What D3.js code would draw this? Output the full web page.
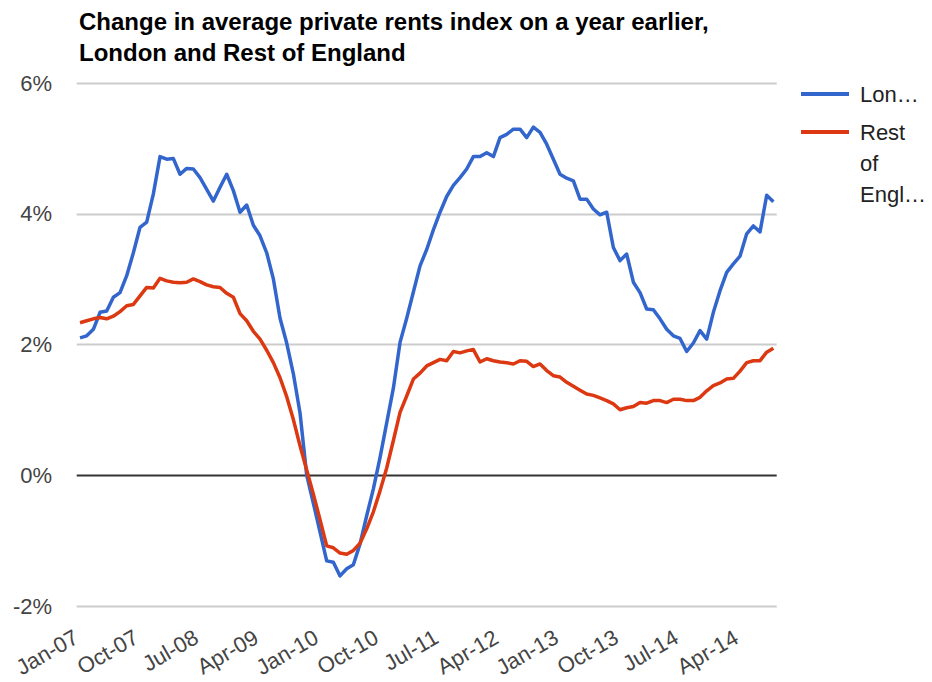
<!DOCTYPE html>
<html>
<head>
<meta charset="utf-8">
<script src="https://cdn.jsdelivr.net/npm/d3@7"></script>
<style>
  html, body { margin: 0; padding: 0; background: #fff; }
  svg { display: block; font-family: Arial, "Liberation Sans", sans-serif; }
</style>
</head>
<body>
<svg id="chart" width="932" height="682"></svg>
<script>
// year-on-year change (%), monthly from Jan-07
var london = [
	2.10, 2.13, 2.23, 2.49, 2.51, 2.72, 2.79, 3.05, 3.40, 3.79,
	3.87, 4.30, 4.87, 4.83, 4.84, 4.60, 4.69, 4.68, 4.55, 4.37,
	4.19, 4.40, 4.60, 4.35, 4.02, 4.13, 3.82, 3.66, 3.40, 3.00,
	2.40, 2.02, 1.55, 0.95, 0.00, -0.43, -0.87, -1.31, -1.33, -1.54,
	-1.43, -1.37, -1.05, -0.62, -0.21, 0.27, 0.80, 1.33, 2.03, 2.40,
	2.80, 3.20, 3.45, 3.75, 4.02, 4.26, 4.43, 4.55, 4.68, 4.87,
	4.87, 4.93, 4.87, 5.16, 5.21, 5.29, 5.29, 5.16, 5.32, 5.24,
	5.06, 4.83, 4.60, 4.54, 4.50, 4.22, 4.22, 4.07, 3.98, 4.02,
	3.48, 3.28, 3.38, 2.95, 2.79, 2.54, 2.53, 2.39, 2.23, 2.13,
	2.09, 1.89, 2.02, 2.21, 2.08, 2.49, 2.82, 3.10, 3.23, 3.35,
	3.69, 3.81, 3.72, 4.28, 4.18
];
var restOfEngland = [
	2.33, 2.36, 2.39, 2.41, 2.39, 2.43, 2.50, 2.59, 2.61, 2.74,
	2.87, 2.86, 3.01, 2.97, 2.95, 2.94, 2.95, 3.00, 2.96, 2.91,
	2.88, 2.87, 2.78, 2.72, 2.47, 2.36, 2.20, 2.08, 1.91, 1.72,
	1.49, 1.20, 0.85, 0.45, 0.08, -0.29, -0.68, -1.08, -1.11, -1.19,
	-1.21, -1.15, -1.04, -0.82, -0.56, -0.24, 0.11, 0.53, 0.96, 1.21,
	1.47, 1.56, 1.67, 1.72, 1.77, 1.75, 1.89, 1.87, 1.90, 1.92,
	1.73, 1.78, 1.75, 1.73, 1.72, 1.70, 1.75, 1.74, 1.66, 1.70,
	1.60, 1.52, 1.50, 1.42, 1.36, 1.30, 1.24, 1.22, 1.18, 1.14,
	1.09, 1.00, 1.03, 1.05, 1.11, 1.10, 1.14, 1.14, 1.11, 1.16,
	1.16, 1.14, 1.14, 1.19, 1.29, 1.37, 1.41, 1.47, 1.48, 1.59,
	1.72, 1.75, 1.75, 1.88, 1.94
];
var tickLabels = [ 'Jan-07', 'Oct-07', 'Jul-08', 'Apr-09', 'Jan-10', 'Oct-10', 'Jul-11', 'Apr-12', 'Jan-13', 'Oct-13', 'Jul-14', 'Apr-14' ];
var tickEvery  = 9;
var yTicks     = [ -2, 0, 2, 4, 6 ];
var titleLines = [ 'Change in average private rents index on a year earlier,', 'London and Rest of England' ];
var seriesNames = [ [ 'Lon…' ], [ 'Rest', 'of', 'Engl…' ] ];
var seriesColors = [ '#3366cc', '#dc3912' ];

var box = { left: 76.7, right: 776.7, top: 82.7, bottom: 606 };
var svg = d3.select( '#chart' );

var x = d3.scalePoint()
	.domain( d3.range( london.length ) )
	.range( [ box.left, box.right ] )
	.padding( 0.5 );
var y = d3.scaleLinear()
	.domain( [ -2, 6 ] )
	.range( [ box.bottom, box.top ] );

// title
svg.append( 'g' )
	.selectAll( 'text' )
	.data( titleLines )
	.join( 'text' )
	.attr( 'x', 79 )
	.attr( 'y', ( d, i ) => 30 + i * 31 )
	.attr( 'font-size', 24 )
	.attr( 'font-weight', 'bold' )
	.attr( 'fill', '#000' )
	.text( d => d );

// gridlines + y labels
var yAxis = svg.append( 'g' );
yAxis.selectAll( 'line' )
	.data( yTicks )
	.join( 'line' )
	.attr( 'x1', box.left )
	.attr( 'x2', box.right )
	.attr( 'y1', d => Math.round( y( d ) ) + 0.5 )
	.attr( 'y2', d => Math.round( y( d ) ) + 0.5 )
	.attr( 'stroke', d => d === 0 ? '#333' : '#ccc' )
	.attr( 'stroke-width', 2 );
yAxis.selectAll( 'text' )
	.data( yTicks )
	.join( 'text' )
	.attr( 'x', 52 )
	.attr( 'y', d => y( d ) )
	.attr( 'dy', '0.36em' )
	.attr( 'text-anchor', 'end' )
	.attr( 'font-size', 22 )
	.attr( 'fill', '#444' )
	.text( d => d + '%' );

// x labels, slanted
svg.append( 'g' )
	.selectAll( 'text' )
	.data( tickLabels )
	.join( 'text' )
	.attr( 'text-anchor', 'end' )
	.attr( 'font-size', 22 )
	.attr( 'fill', '#444' )
	.attr( 'transform', ( d, i ) => 'translate(' + x( i * tickEvery ) + ',642) rotate(-30)' )
	.text( d => d );

// lines
var line = d3.line()
	.x( ( d, i ) => x( i ) )
	.y( d => y( d ) );
svg.append( 'g' )
	.selectAll( 'path' )
	.data( [ london, restOfEngland ] )
	.join( 'path' )
	.attr( 'd', line )
	.attr( 'fill', 'none' )
	.attr( 'stroke', ( d, i ) => seriesColors[ i ] )
	.attr( 'stroke-width', 3.5 )
	.attr( 'stroke-linejoin', 'round' );

// legend
var legend = svg.append( 'g' )
	.selectAll( 'g' )
	.data( seriesNames )
	.join( 'g' )
	.attr( 'transform', ( d, i ) => 'translate(0,' + ( 94 + i * 38 ) + ')' );
legend.append( 'line' )
	.attr( 'x1', 801 )
	.attr( 'x2', 849 )
	.attr( 'stroke', ( d, i ) => seriesColors[ i ] )
	.attr( 'stroke-width', 4 );
legend.selectAll( 'text' )
	.data( d => d )
	.join( 'text' )
	.attr( 'x', 860 )
	.attr( 'y', ( d, i ) => 8 + i * 31 )
	.attr( 'font-size', 22 )
	.attr( 'fill', '#222' )
	.text( d => d );
</script>
</body>
</html>
